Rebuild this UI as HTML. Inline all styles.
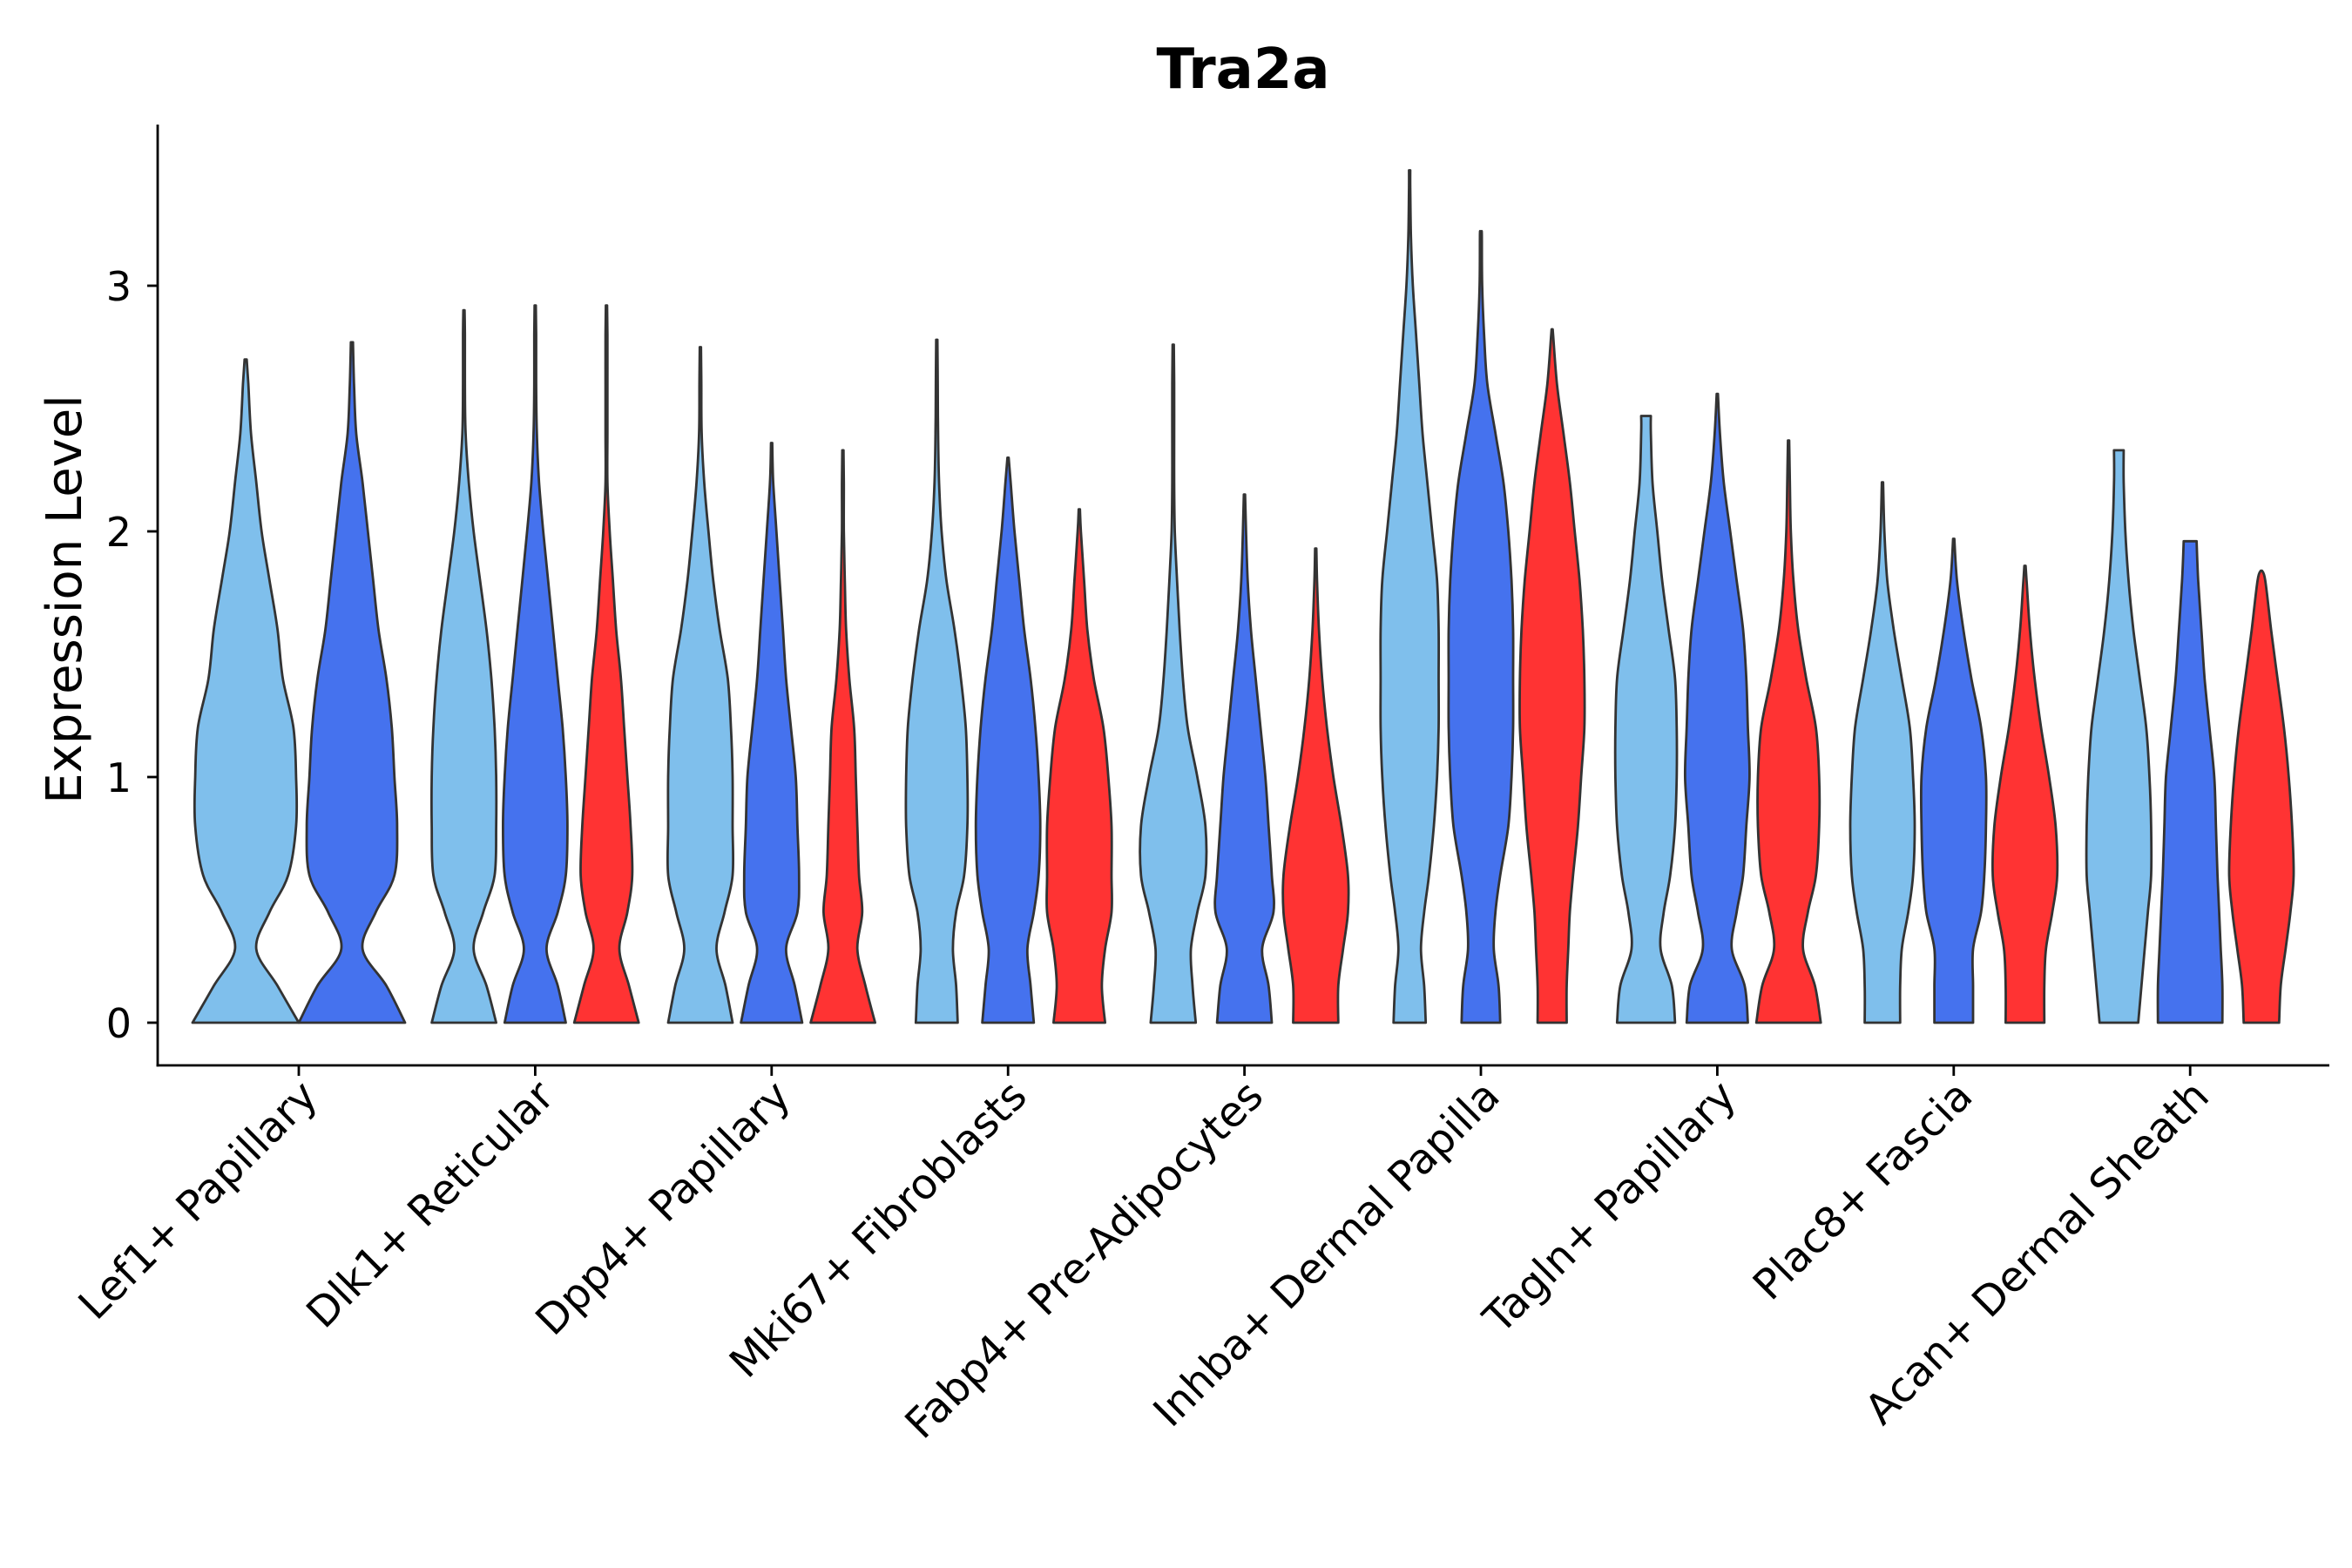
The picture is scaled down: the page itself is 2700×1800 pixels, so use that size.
<!DOCTYPE html>
<html><head><meta charset="utf-8">
<style>
html,body{margin:0;padding:0;background:#fff;}
svg{display:block;font-family:"DejaVu Sans","Liberation Sans",sans-serif;}
</style></head>
<body>
<svg id="chart" width="2700" height="1800" viewBox="0 0 2700 1800">
<text x="1427" y="101" text-anchor="middle" font-size="64" font-weight="bold" fill="#000">Tra2a</text>
<text transform="translate(93,688) rotate(-90)" text-anchor="middle" font-size="56" fill="#000">Expression Level</text>
<g id="violins"></g>
<g id="axes"></g>
</svg>
<script>
const categories = ["Lef1+ Papillary","Dlk1+ Reticular","Dpp4+ Papillary","Mki67+ Fibroblasts","Fabp4+ Pre-Adipocytes","Inhba+ Dermal Papilla","Tagln+ Papillary","Plac8+ Fascia","Acan+ Dermal Sheath"];
const yTicks = [0,1,2,3];
const gridY = [0,0.15,0.3,0.45,0.6,0.8,1.0,1.2,1.4,1.6,1.8,2.0,2.2,2.4,2.6,2.8,3.0,3.2,3.4];
const groupsPerCat = [[0,1],[0,1,2],[0,1,2],[0,1,2],[0,1,2],[0,1,2],[0,1,2],[0,1,2],[0,1,2]];
const maxVals = [
 [2.70,2.77],[2.90,2.92,2.92],[2.75,2.36,2.33],[2.78,2.30,2.09],[2.76,2.15,1.93],
 [3.47,3.22,2.82],[2.47,2.56,2.37],[2.20,1.97,1.86],[2.33,1.96,1.84]];
const widths = [
 [[1,0.6,0.2,0.45,0.8,0.95,0.95,0.9,0.7,0.6,0.45,0.3,0.2,0.1,0.05,0.03],
  [1,0.65,0.2,0.45,0.8,0.85,0.8,0.75,0.65,0.5,0.4,0.3,0.2,0.08,0.04,0.03]],
 [[1,0.7,0.3,0.6,0.95,1,1,0.95,0.85,0.7,0.5,0.3,0.15,0.05,0.03,0.03,0.03],
  [0.95,0.7,0.35,0.7,0.95,1,0.95,0.85,0.7,0.55,0.4,0.25,0.12,0.05,0.03,0.03,0.03],
  [1,0.7,0.4,0.65,0.8,0.75,0.65,0.55,0.45,0.3,0.2,0.1,0.03,0.03,0.03,0.03,0.03]],
 [[1,0.78,0.5,0.75,1,1,1,0.95,0.85,0.6,0.4,0.25,0.12,0.04,0.03,0.03],
  [0.95,0.72,0.45,0.8,0.85,0.8,0.75,0.6,0.45,0.35,0.25,0.15,0.05,0.03],
  [1,0.7,0.45,0.6,0.5,0.45,0.4,0.35,0.2,0.1,0.06,0.03,0.03,0.03]],
 [[0.65,0.6,0.5,0.6,0.85,0.95,0.95,0.9,0.75,0.55,0.3,0.15,0.07,0.04,0.03,0.03],
  [0.8,0.7,0.6,0.8,0.95,1,0.95,0.85,0.7,0.5,0.35,0.2,0.08,0.03],
  [0.8,0.7,0.8,1,1,1,0.9,0.75,0.45,0.25,0.15,0.05,0.03]],
 [[0.7,0.6,0.55,0.75,1,1,0.75,0.45,0.3,0.2,0.12,0.05,0.03,0.03,0.03,0.03],
  [0.85,0.75,0.55,0.9,0.85,0.75,0.65,0.5,0.35,0.2,0.1,0.05,0.03],
  [0.7,0.7,0.85,1,1,0.8,0.55,0.35,0.2,0.1,0.04,0.03]],
 [[0.5,0.45,0.35,0.45,0.6,0.75,0.85,0.9,0.9,0.9,0.85,0.7,0.55,0.4,0.3,0.2,0.1,0.04,0.02],
  [0.6,0.55,0.4,0.45,0.6,0.85,0.95,1,1,1,0.95,0.85,0.7,0.45,0.2,0.1,0.04,0.03],
  [0.45,0.45,0.5,0.55,0.65,0.8,0.9,1,1,0.95,0.85,0.7,0.55,0.35,0.15,0.03]],
 [[0.9,0.8,0.45,0.55,0.75,0.9,0.95,0.95,0.9,0.7,0.5,0.35,0.2,0.15],
  [0.95,0.85,0.45,0.6,0.8,0.9,1,0.95,0.9,0.8,0.6,0.4,0.2,0.08,0.03],
  [1,0.82,0.45,0.6,0.85,0.95,0.95,0.85,0.55,0.3,0.15,0.07,0.04,0.03]],
 [[0.55,0.55,0.6,0.8,0.95,1,0.95,0.85,0.6,0.35,0.15,0.06,0.04],
  [0.6,0.6,0.6,0.85,0.95,1,1,0.85,0.55,0.3,0.1,0.06],
  [0.6,0.6,0.65,0.85,1,0.95,0.75,0.5,0.3,0.15,0.05,0.04]],
 [[0.6,0.7,0.8,0.9,1,1,0.95,0.85,0.65,0.45,0.3,0.2,0.15,0.15],
  [1,1,0.95,0.9,0.85,0.8,0.75,0.6,0.45,0.35,0.25,0.2],
  [0.55,0.6,0.75,0.9,1,0.95,0.85,0.7,0.5,0.3,0.12,0.08]]];
const fills = ["#7fbfec","#4572ee","#ff3333"];

const X0 = 181, X1 = 2674, YT = 143, YB = 1223;
const yZero = 1174, yPerUnit = 282;
const catStart = 343, catStep = 271.4;
function yScale(v){ return yZero - v*yPerUnit; }
function xScale(i){ return catStart + i*catStep; }
const NS = "http://www.w3.org/2000/svg";
const vg = document.getElementById('violins');
const ag = document.getElementById('axes');
const groupNames = ["light-blue","blue","red"];

function smoothSide(pts){
  let d = "";
  for (let i=0;i<pts.length-1;i++){
    const p0=pts[Math.max(0,i-1)], p1=pts[i], p2=pts[i+1], p3=pts[Math.min(pts.length-1,i+2)];
    const c1=[p1[0]+(p2[0]-p0[0])/6, p1[1]+(p2[1]-p0[1])/6];
    const c2=[p2[0]-(p3[0]-p1[0])/6, p2[1]-(p3[1]-p1[1])/6];
    d += ` C${c1[0].toFixed(1)},${c1[1].toFixed(1)} ${c2[0].toFixed(1)},${c2[1].toFixed(1)} ${p2[0].toFixed(1)},${p2[1].toFixed(1)}`;
  }
  return d;
}

categories.forEach((cat,ci)=>{
  const grp = groupsPerCat[ci];
  const n = grp.length;
  const off = n===2 ? 122 : 81.8;
  const halfMax = n===2 ? 61 : 37;
  grp.forEach((g,k)=>{
    const cx = xScale(ci) + (k-(n-1)/2)*off;
    const mx = maxVals[ci][k];
    const ws = widths[ci][k];
    const prof = [];
    for (let j=0;j<gridY.length && gridY[j]<mx;j++){
      prof.push([gridY[j], ws[Math.min(j,ws.length-1)]]);
    }
    const lastW = ws[Math.min(prof.length,ws.length-1)];
    prof.push([mx, lastW > 0.1 ? Math.min(lastW,0.2) : 0.02]);
    const right = prof.map(p=>[cx+p[1]*halfMax, yScale(p[0])]);
    const left = prof.slice().reverse().map(p=>[cx-p[1]*halfMax, yScale(p[0])]);
    let d = `M${left[left.length-1][0].toFixed(1)},${right[0][1].toFixed(1)} L${right[0][0].toFixed(1)},${right[0][1].toFixed(1)}`;
    d += smoothSide(right);
    d += ` L${left[0][0].toFixed(1)},${left[0][1].toFixed(1)}`;
    d += smoothSide(left);
    d += " Z";
    const p = document.createElementNS(NS,'path');
    p.setAttribute('d', d);
    p.setAttribute('fill', fills[g]);
    p.setAttribute('stroke', '#333');
    p.setAttribute('stroke-width', '2.8');
    p.setAttribute('stroke-linejoin', 'round');
    
    
    vg.appendChild(p);
  });
  const t = document.createElementNS(NS,'line');
  t.setAttribute('x1', xScale(ci)); t.setAttribute('x2', xScale(ci));
  t.setAttribute('y1', YB); t.setAttribute('y2', YB+12);
  t.setAttribute('stroke','#000'); t.setAttribute('stroke-width','2.8');
  
  
  ag.appendChild(t);
  const lbl = document.createElementNS(NS,'text');
  const lx = xScale(ci)+24, ly = YB+38;
  lbl.setAttribute('transform', `translate(${lx},${ly}) rotate(-45)`);
  lbl.setAttribute('text-anchor','end');
  lbl.setAttribute('font-size','48');
  lbl.setAttribute('fill','#000');
  lbl.textContent = cat;
  
  
  ag.appendChild(lbl);
});

yTicks.forEach(v=>{
  const t = document.createElementNS(NS,'line');
  t.setAttribute('x1', X0-12); t.setAttribute('x2', X0);
  t.setAttribute('y1', yScale(v)); t.setAttribute('y2', yScale(v));
  t.setAttribute('stroke','#000'); t.setAttribute('stroke-width','2.8');
  
  
  ag.appendChild(t);
  const l = document.createElementNS(NS,'text');
  l.setAttribute('x', X0-30); l.setAttribute('y', yScale(v)+17);
  l.setAttribute('text-anchor','end'); l.setAttribute('font-size','46'); l.setAttribute('fill','#000');
  l.textContent = v;
  
  
  ag.appendChild(l);
});

const ya = document.createElementNS(NS,'line');
ya.setAttribute('x1',X0); ya.setAttribute('x2',X0); ya.setAttribute('y1',YT); ya.setAttribute('y2',YB+1.4);
ya.setAttribute('stroke','#000'); ya.setAttribute('stroke-width','2.8');


ag.appendChild(ya);
const xa = document.createElementNS(NS,'line');
xa.setAttribute('x1',X0-1.4); xa.setAttribute('x2',X1); xa.setAttribute('y1',YB); xa.setAttribute('y2',YB);
xa.setAttribute('stroke','#000'); xa.setAttribute('stroke-width','2.8');


ag.appendChild(xa);
</script>
</body></html>
